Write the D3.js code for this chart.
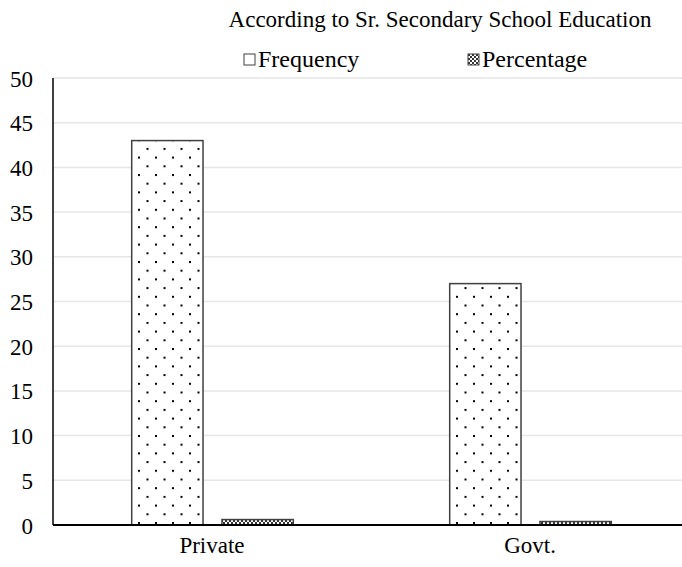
<!DOCTYPE html>
<html>
<head>
<meta charset="utf-8">
<script src="https://cdn.jsdelivr.net/npm/d3@7"></script>
<style>
  body { margin: 0; background: #fff; }
  svg text { font-family: "Liberation Serif", "Times New Roman", serif; fill: #000; }
</style>
</head>
<body>
<svg id="chart" width="682" height="567"></svg>
<script>
// Chart data
var categories = ["Private", "Govt."];
var seriesNames = ["Frequency", "Percentage"];
var frequency = [43, 27];
var percentage = [0.61, 0.39];
var yTicks = [0, 5, 10, 15, 20, 25, 30, 35, 40, 45, 50];

var svg = d3.select("#chart");
var margin = { top: 78, left: 53, bottom: 525 };
var serif = "'Liberation Serif', 'Times New Roman', serif";

// Patterns for the bar fills
var defs = svg.append("defs");
var dots = defs.append("pattern")
  .attr("id", "dots")
  .attr("patternUnits", "userSpaceOnUse")
  .attr("width", 17).attr("height", 17.4);
dots.append("rect").attr("width", 17).attr("height", 17.4).attr("fill", "#fff");
dots.append("rect").attr("x", 0).attr("y", 0).attr("width", 2).attr("height", 2).attr("fill", "#000");
dots.append("rect").attr("x", 8.5).attr("y", 8.7).attr("width", 2).attr("height", 2).attr("fill", "#000");

var check = defs.append("pattern")
  .attr("id", "check")
  .attr("patternUnits", "userSpaceOnUse")
  .attr("width", 4).attr("height", 4);
check.append("rect").attr("width", 4).attr("height", 4).attr("fill", "#fff");
check.append("rect").attr("width", 2).attr("height", 2).attr("fill", "#333");
check.append("rect").attr("x", 2).attr("y", 2).attr("width", 2).attr("height", 2).attr("fill", "#333");

var fills = ["url(#dots)", "url(#check)"];

// Scales
var y = d3.scaleLinear().domain([0, 50]).range([margin.bottom, margin.top]);
var x0 = d3.scaleBand().domain(categories).range([53, 689]).paddingInner(0).paddingOuter(0);
var x1 = d3.scaleBand().domain(seriesNames).range([78.7, 240.3]).paddingInner(0.21).paddingOuter(0);

// Gridlines
svg.append("g")
  .selectAll("line")
  .data(yTicks.slice(1))
  .enter()
  .append("line")
  .attr("x1", margin.left).attr("x2", 682)
  .attr("y1", function(d) { return y(d); })
  .attr("y2", function(d) { return y(d); })
  .attr("stroke", "#e6e6e6")
  .attr("stroke-width", 1.5);

// Y axis tick labels
var yAxis = svg.append("g")
  .attr("transform", "translate(" + margin.left + ",0)")
  .call(d3.axisLeft(y).tickValues(yTicks).tickSize(0).tickPadding(20));
yAxis.select(".domain").remove();
yAxis.selectAll("text")
  .style("font-family", serif)
  .style("font-size", "23px")
  .attr("dy", "0.35em");

// Bars
var data = categories.map(function(c, i) {
  return [
    { cat: c, key: "Frequency", value: frequency[i], s: 0 },
    { cat: c, key: "Percentage", value: percentage[i], s: 1 }
  ];
});

svg.append("g")
  .selectAll("g")
  .data(data)
  .enter()
  .append("g")
  .attr("transform", function(d) { return "translate(" + x0(d[0].cat) + ",0)"; })
  .selectAll("rect")
  .data(function(d) { return d; })
  .enter()
  .append("rect")
  .attr("x", function(d) { return x1(d.key); })
  .attr("width", x1.bandwidth())
  .attr("y", function(d) { return y(d.value); })
  .attr("height", function(d) { return y(0) - y(d.value); })
  .attr("fill", function(d) { return fills[d.s]; })
  .attr("stroke", "#404040")
  .attr("stroke-width", 1.5);

// Axis lines
svg.append("line")
  .attr("x1", margin.left).attr("x2", margin.left)
  .attr("y1", y(50)).attr("y2", y(0))
  .attr("stroke", "#000").attr("stroke-width", 1.5);
svg.append("line")
  .attr("x1", margin.left).attr("x2", 682)
  .attr("y1", y(0)).attr("y2", y(0))
  .attr("stroke", "#000").attr("stroke-width", 2);

// Category labels
var xAxis = svg.append("g")
  .attr("transform", "translate(0," + margin.bottom + ")")
  .call(d3.axisBottom(x0).tickSize(0).tickPadding(12));
xAxis.select(".domain").remove();
xAxis.selectAll("text")
  .style("font-family", serif)
  .style("font-size", "23px");

// Title
svg.append("text")
  .attr("x", 440).attr("y", 27)
  .attr("text-anchor", "middle")
  .style("font-size", "23px")
  .text("According to Sr. Secondary School Education");

// Legend
var legendX = [244, 468];
var legend = svg.append("g")
  .selectAll("g")
  .data(seriesNames)
  .enter()
  .append("g")
  .attr("transform", function(d, i) { return "translate(" + legendX[i] + ",54)"; });
legend.append("rect")
  .attr("width", 11).attr("height", 11)
  .attr("fill", function(d, i) { return i == 0 ? "#fff" : "url(#check)"; })
  .attr("stroke", "#404040").attr("stroke-width", 1);
legend.append("text")
  .attr("x", 14).attr("y", 13)
  .style("font-size", "24px")
  .text(function(d) { return d; });
</script>
</body>
</html>
